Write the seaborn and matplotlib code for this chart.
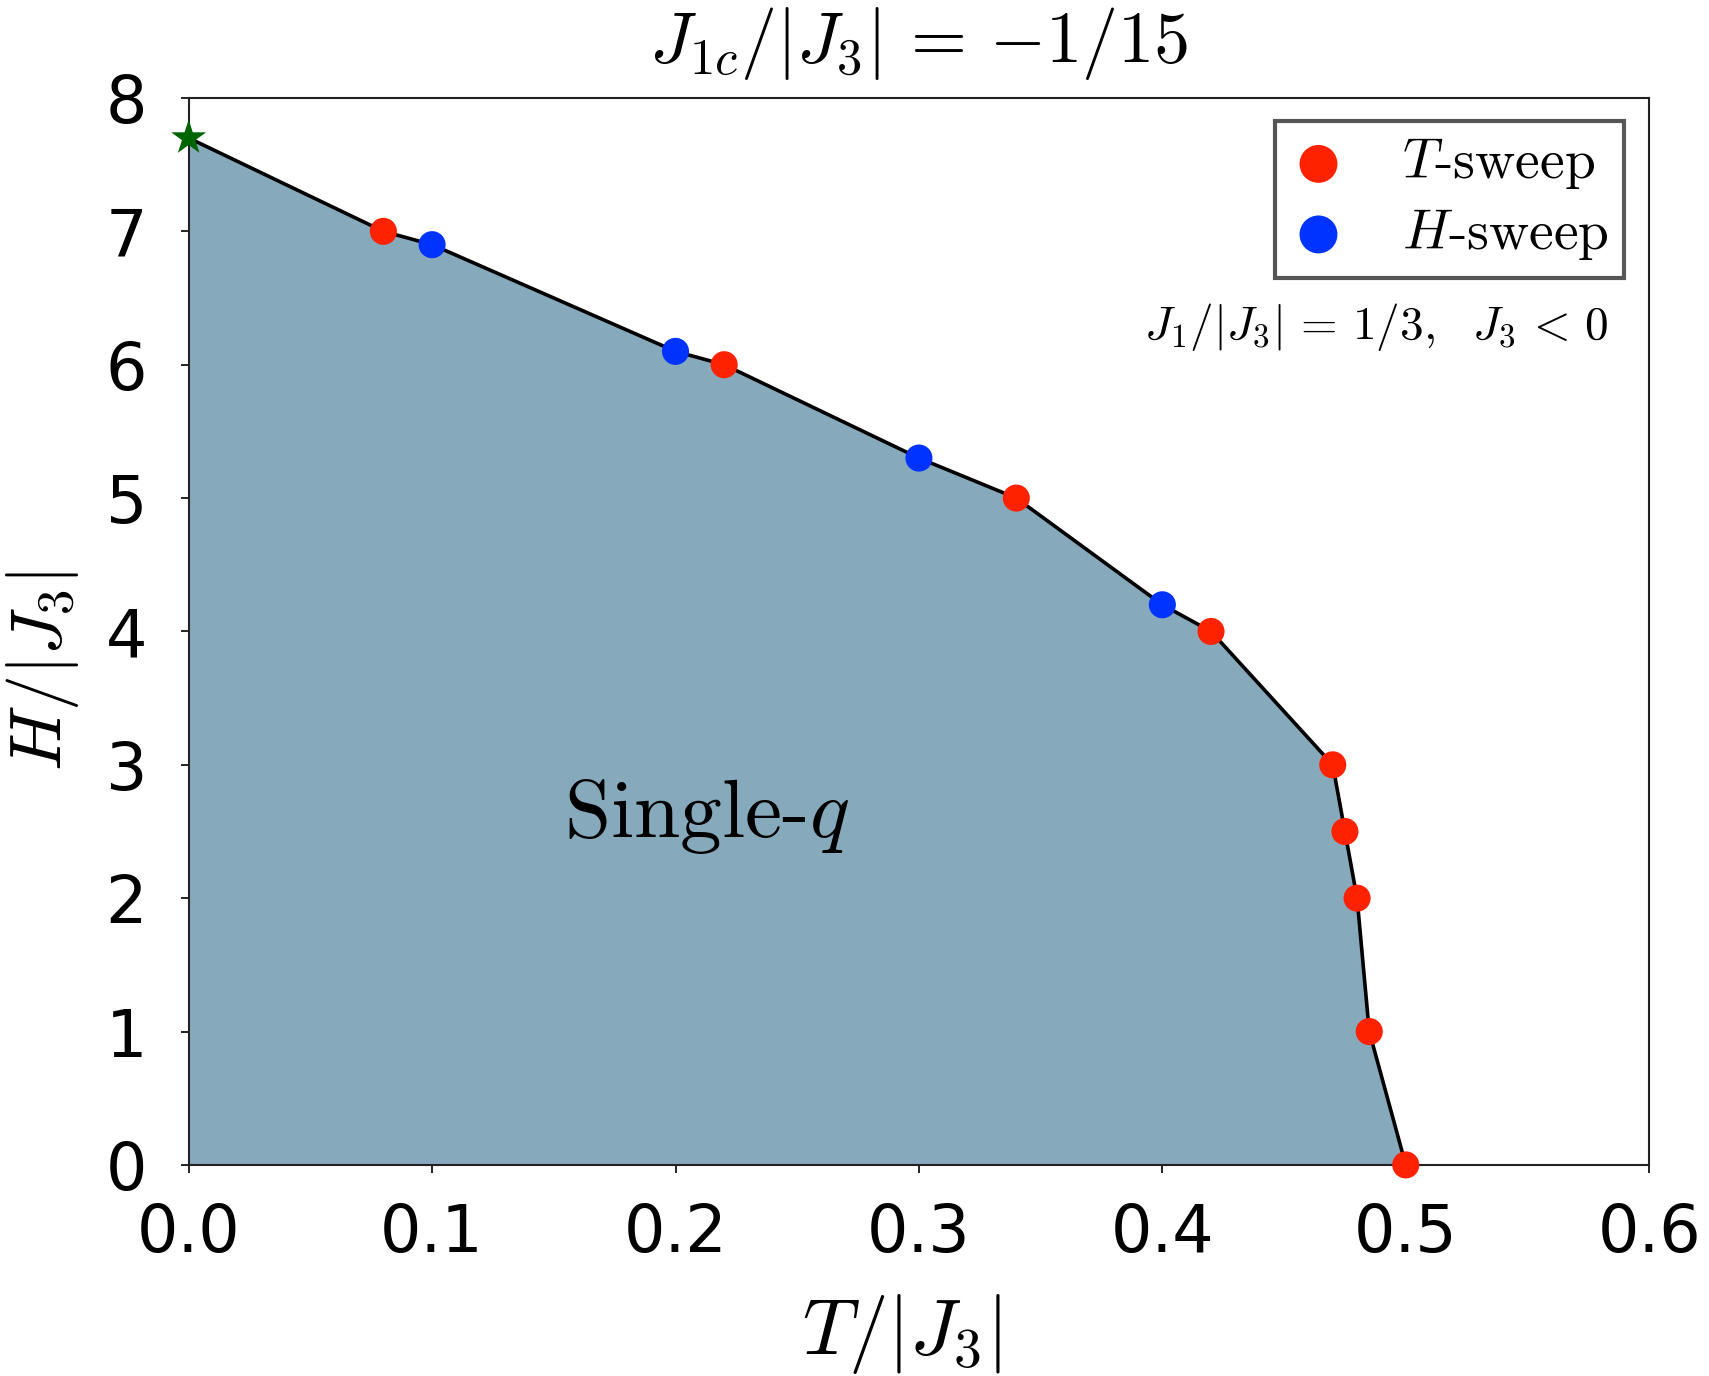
import numpy as np
import pandas as pd
import seaborn as sns
import matplotlib
matplotlib.use("Agg")
import matplotlib.pyplot as plt

# ---- data ----
t_sweep_T = [0.08, 0.22, 0.34, 0.42, 0.47, 0.475, 0.48, 0.485, 0.50]
t_sweep_H = [7.0, 6.0, 5.0, 4.0, 3.0, 2.5, 2.0, 1.0, 0.0]
h_sweep_T = [0.10, 0.20, 0.30, 0.40]
h_sweep_H = [6.9, 6.1, 5.3, 4.2]
star_T = [0.0]
star_H = [7.7]
xticks = [0.0, 0.1, 0.2, 0.3, 0.4, 0.5, 0.6]
yticks = [0, 1, 2, 3, 4, 5, 6, 7, 8]

sns.set_style("ticks")
plt.rcParams["font.family"] = ["DejaVu Sans"]
plt.rcParams["mathtext.fontset"] = "cm"
plt.rcParams["text.color"] = "black"
plt.rcParams["axes.labelcolor"] = "black"

# boundary: star + all points sorted by descending H
bT = star_T + t_sweep_T + h_sweep_T
bH = star_H + t_sweep_H + h_sweep_H
bdf = pd.DataFrame({"T": bT, "H": bH}).sort_values("H", ascending=False).reset_index(drop=True)

fig = plt.figure(figsize=(17.09, 13.76), dpi=100)
ax = fig.add_axes([0.1104, 0.1534, 0.965 - 0.1104, 0.9288 - 0.1534])

fill_col = "#87A9BC"
ax.fill_between(bdf["T"], bdf["H"], 0, color=fill_col, linewidth=0, zorder=1)
sns.lineplot(data=bdf, x="T", y="H", sort=False, color="black", linewidth=2.6,
             ax=ax, zorder=2, estimator=None)

red = "#FF2200"
blue = "#0033FF"
sns.scatterplot(x=t_sweep_T, y=t_sweep_H, color=red, s=380, edgecolor="none",
                ax=ax, zorder=4, label=r"$T$-sweep", clip_on=False)
sns.scatterplot(x=h_sweep_T, y=h_sweep_H, color=blue, s=380, edgecolor="none",
                ax=ax, zorder=4, label=r"$H$-sweep", clip_on=False)
sns.scatterplot(x=star_T, y=star_H, color="#006400", marker="*", s=700,
                edgecolor="none", ax=ax, zorder=5, clip_on=False, legend=False)

ax.set_xlim(0, 0.6)
ax.set_ylim(0, 8)
ax.set_xticks(xticks)
ax.set_xticklabels([f"{v:.1f}" for v in xticks])
ax.set_yticks(yticks)
ax.set_yticklabels([str(v) for v in yticks])
ax.tick_params(axis="both", labelsize=47, length=6, width=1.2, direction="out",
               colors="black")
ax.tick_params(axis="x", pad=21)
ax.tick_params(axis="y", pad=24)
for s in ax.spines.values():
    s.set_linewidth(1.5)
    s.set_color("#222222")
    s.set_visible(True)

ax.set_xlabel(r"$T/|J_3|$", fontsize=57)
ax.set_ylabel(r"$H/|J_3|$", fontsize=52)
ax.xaxis.set_label_coords(0.488, -0.119)
ax.yaxis.set_label_coords(-0.074, 0.463)
ax.set_title(r"$J_{1c}/|J_3|\,=\,{-1/15}$", fontsize=52, pad=26)

ax.text(0.2127, 2.61, r"Single-$q$", fontsize=60, family="cmr10",
        ha="center", va="center", zorder=6, color="black")
ax.text(0.972, 0.785, r"$J_1/|J_3|\,=\,1/3,\ \ J_3\,<\,0$", fontsize=34,
        transform=ax.transAxes, ha="right", va="center")

leg = ax.legend(loc="upper right", bbox_to_anchor=(0.983, 0.9785),
                borderaxespad=0.0,
                frameon=True, fancybox=False, framealpha=1, edgecolor="#555555",
                handlelength=1.0, handletextpad=1.0, borderpad=0.28,
                labelspacing=0.28, markerscale=1.4,
                prop={"family": "cmr10", "size": 40})
leg.get_frame().set_linewidth(3)

fig.savefig("out.png", dpi=100)
